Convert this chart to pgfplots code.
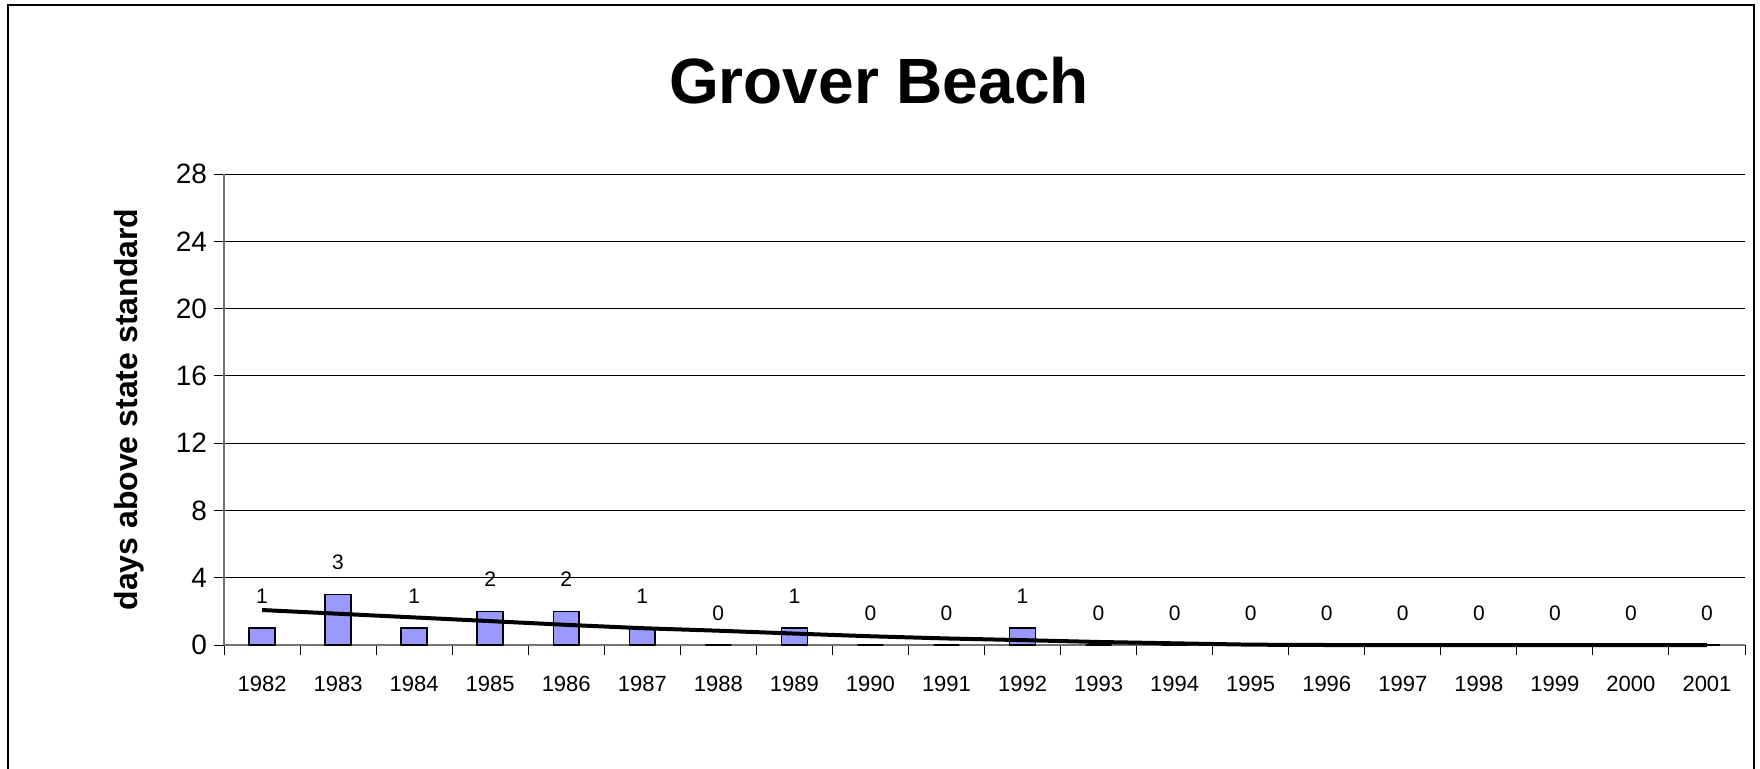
\documentclass[border=0pt]{standalone}
\usepackage{pgfplots}
\pgfplotsset{compat=1.18}
\usepackage{fontspec}
\setmainfont{Liberation Sans}
\definecolor{barfill}{HTML}{9999FF}
\begin{document}
\begin{tikzpicture}
\useasboundingbox (0pt,0pt) rectangle (880pt,384pt);
\draw[line width=1.2pt] (4pt,-2pt) -- (4pt,381.5pt) -- (877pt,381.5pt) -- (877pt,-2pt);
\node[font=\bfseries\fontsize{32}{36}\selectfont] at (439.5pt,343.5pt) {Grover Beach};
\begin{axis}[
  at={(112pt,61.5pt)}, anchor=south west,
  width=760.5pt, height=235.5pt, scale only axis,
  xmin=-0.5, xmax=19.5, ymin=0, ymax=28,
  axis lines*=left,
  axis line style={black!55, line width=0.8pt},
  ytick={0,4,...,28},
  xtick={0,...,19},
  xticklabels={1982,1983,1984,1985,1986,1987,1988,1989,1990,1991,1992,1993,1994,1995,1996,1997,1998,1999,2000,2001},
  minor xtick={-0.5,0.5,...,19.5},
  tick align=outside,
  major tick length=5pt, minor tick length=5pt,
  major x tick style={draw=none},
  minor x tick style={black, line width=0.5pt},
  ytick style={black, line width=0.5pt},
  ymajorgrids,
  major grid style={black, line width=0.5pt},
  /pgf/number format/assume math mode=true,
  yticklabel style={font=\fontsize{14}{16}\selectfont},
  xticklabel style={font=\fontsize{11}{13}\selectfont, yshift=-7pt},
  ylabel={days above state standard},
  ylabel style={font=\bfseries\fontsize{16}{18}\selectfont, at={(axis description cs:-0.0625,0.5)}, anchor=center},
  clip=false,
]
\addplot[ybar, bar width=0.34, fill=barfill, draw=black, line width=0.8pt,
  nodes near coords,
  nodes near coords style={font=\fontsize{10.5}{12}\selectfont, anchor=center, yshift=16pt, black}]
  coordinates {(0,1) (1,3) (2,1) (3,2) (4,2) (5,1) (6,0) (7,1) (8,0) (9,0) (10,1) (11,0) (12,0) (13,0) (14,0) (15,0) (16,0) (17,0) (18,0) (19,0)};
\addplot[black, line width=2pt, mark=none]
  coordinates {(0,2.08) (1,1.86) (2,1.64) (3,1.42) (4,1.2) (5,1.0) (6,0.85) (7,0.68) (8,0.52) (9,0.39) (10,0.29) (11,0.18) (12,0.1) (13,0.02) (14,0) (15,0) (16,0) (17,0) (18,0) (19,0)};
\end{axis}
\end{tikzpicture}
\end{document}
